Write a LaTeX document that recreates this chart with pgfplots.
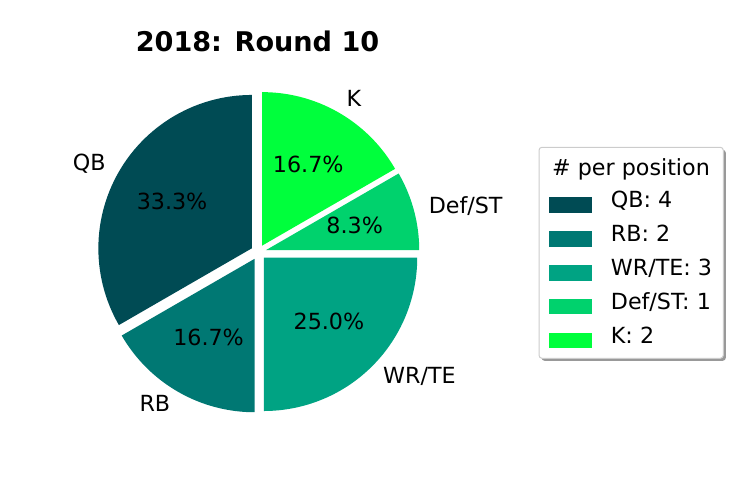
\documentclass[border=0pt]{standalone}
\usepackage{pgfplots}
\pgfplotsset{compat=1.18}
\usepackage{pgfplotstable}
\usepackage{fontspec}
\setmainfont{DejaVu Sans}

\definecolor{qbc}{HTML}{004B54}
\definecolor{rbc}{HTML}{007873}
\definecolor{wrc}{HTML}{00A383}
\definecolor{dstc}{HTML}{00D26D}
\definecolor{kc}{HTML}{00FF3C}

\pgfplotstableread{
label value color
QB 4 qbc
RB 2 rbc
WR/TE 3 wrc
Def/ST 1 dstc
K 2 kc
}\piedata

\newcommand\cx{258.4}
\newcommand\cy{247.8}
\newcommand\R{153.4}
\newcommand\N{60}
\newcount\kk

\tikzset{
  lbl/.style={font=\fontsize{22.3}{26}\selectfont, inner sep=0pt, outer sep=0pt, text height=0.76em, text depth=0.21em, yshift=-4bp},
}

\begin{document}
\begin{tikzpicture}
\begin{axis}[
  hide axis, scale only axis,
  width=746bp, height=500bp,
  xmin=0, xmax=746, ymin=0, ymax=500,
  clip=false,
  legend style={at={(axis cs:548.3,302.8)}, anchor=north west, draw=none, fill=none,
    inner sep=0pt, row sep=18.5bp, column sep=18.7bp,
    font=\fontsize{22.3}{26}\selectfont,
    nodes={inner sep=0pt, text height=0.76em, text depth=0.21em}},
  legend cell align=left,
  legend image code/.code={\fill[#1] (0bp,-7.7bp) rectangle (43.7bp,7.7bp);},
]
\path (axis cs:0,0) rectangle (axis cs:746,500);
% legend frame
\fill[black!40, rounded corners=3bp] (axis cs:541.5,139.2) rectangle (axis cs:725.8,350.2);
\filldraw[fill=white, draw=black!20, line width=1bp, rounded corners=3bp] (axis cs:539,141.7) rectangle (axis cs:723.3,352.7);
\node[lbl, yshift=-2bp] at (axis cs:631,333.3) {\# per position};
% title
\node[font=\fontsize{27.2}{30}\selectfont\bfseries, anchor=base] at (axis cs:257.5,448) {2018: Round 10};

\pgfmathsetmacro\total{0}
\pgfplotsforeachungrouped \i in {0,...,4}{%
  \pgfplotstablegetelem{\i}{value}\of\piedata
  \pgfmathsetmacro\total{\total+\pgfplotsretval}%
}
\def\cum{0}
\pgfplotsforeachungrouped \i in {0,...,4}{%
  \pgfplotstablegetelem{\i}{value}\of\piedata \let\v\pgfplotsretval
  \pgfplotstablegetelem{\i}{color}\of\piedata \let\col\pgfplotsretval
  \pgfplotstablegetelem{\i}{label}\of\piedata \let\lab\pgfplotsretval
  \pgfmathsetmacro\ta{90+360*\cum/\total}%
  \pgfmathsetmacro\tb{90+360*(\cum+\v)/\total}%
  \pgfmathsetmacro\tm{(\ta+\tb)/2}%
  \pgfmathsetmacro\ox{\cx+0.05*\R*cos(\tm)}%
  \pgfmathsetmacro\oy{\cy+0.05*\R*sin(\tm)}%
  \edef\coords{(\ox,\oy)}%
  \kk=0
  \loop
    \pgfmathsetmacro\ang{\ta+(\tb-\ta)*\the\kk/\N}%
    \pgfmathsetmacro\px{\ox+\R*cos(\ang)}%
    \pgfmathsetmacro\py{\oy+\R*sin(\ang)}%
    \edef\coords{\coords (\px,\py)}%
  \ifnum\kk<\N \advance\kk by 1 \repeat
  \edef\coords{\coords (\ox,\oy)}%
  \edef\temp{\noexpand\addplot[fill=\col, draw=none] coordinates {\coords};
    \noexpand\addlegendentry{\lab: \v}}%
  \temp
  % labels
  \pgfmathsetmacro\lx{\ox+1.1*\R*cos(\tm)}%
  \pgfmathsetmacro\ly{\oy+1.1*\R*sin(\tm)}%
  \pgfmathsetmacro\cs{cos(\tm)}%
  \ifdim\cs pt>0pt \def\anc{west}\else\def\anc{east}\fi
  \edef\temp{\noexpand\node[lbl, anchor=\anc] at (axis cs:\lx,\ly) {\lab};}%
  \temp
  \pgfmathsetmacro\qx{\ox+0.6*\R*cos(\tm)}%
  \pgfmathsetmacro\qy{\oy+0.6*\R*sin(\tm)}%
  \pgfmathparse{100*\v/\total}%
  \pgfkeys{/pgf/number format/.cd, fixed, fixed zerofill, precision=1, assume math mode=true}%
  \pgfmathprintnumberto{\pgfmathresult}{\pct}%
  \edef\temp{\noexpand\node[lbl, anchor=center] at (axis cs:\qx,\qy) {\unexpanded\expandafter{\pct}\noexpand\%};}%
  \temp
  \pgfmathsetmacro\cum{\cum+\v}%
}
\end{axis}
\end{tikzpicture}
\end{document}
